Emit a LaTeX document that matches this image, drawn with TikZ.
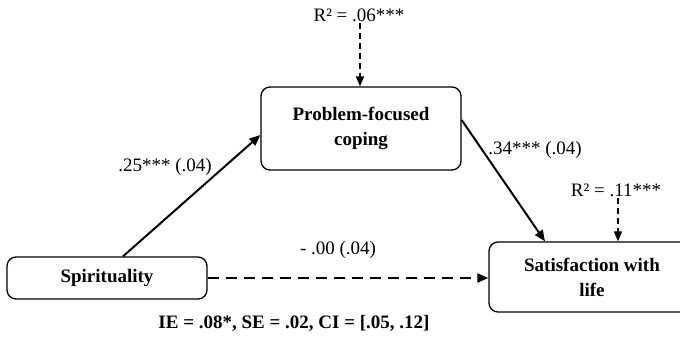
\documentclass[tikz,border=0pt]{standalone}
\usepackage{fontspec}
\setmainfont{Liberation Serif}
\usetikzlibrary{arrows.meta}
\begin{document}
\begin{tikzpicture}[x=1pt,y=-1pt,
  box/.style={draw, line width=1.3pt, rounded corners=9pt, align=center,
    font=\fontsize{19}{25}\selectfont\bfseries, inner sep=0pt},
  lbl/.style={font=\fontsize{19}{23}\selectfont, inner sep=1pt},
  solidarrow/.style={line width=2pt, -{Triangle[length=11pt,width=9pt]}},
  dasharrow/.style={line width=2.3pt, dash pattern=on 11pt off 7pt, -{Triangle[length=11pt,width=9pt]}},
  rarrow/.style={line width=1.5pt, dash pattern=on 6pt off 4pt, -{Triangle[length=10pt,width=8pt]}}
]
\useasboundingbox (0,0) rectangle (680,338);
\node[box, minimum width=200pt, minimum height=42pt] (spir) at (107,278) {Spirituality};
\node[box, minimum width=200pt, minimum height=83pt] (pfc) at (361,128.5) {Problem-focused\\coping};
\node[box, minimum width=206pt, minimum height=70pt] (sat) at (592,277) {Satisfaction with\\life};
\node[lbl] (r1) at (359,15) {R² = .06***};
\node[lbl] (r2) at (616,190) {R² = .11***};
\node[lbl] (l1) at (165,167) {.25*** (.04)};
\node[lbl] (l2) at (535,150) {.34*** (.04)};
\node[lbl] (l3) at (338,250) {- .00 (.04)};
\node[lbl, font=\fontsize{19}{23}\selectfont\bfseries] (ie) at (294,323) {IE = .08*, SE = .02, CI = [.05, .12]};
\coordinate (r1s) at ([xshift=1pt]r1.south);
\coordinate (r2s) at ([xshift=2pt]r2.south);
\draw[solidarrow] ([xshift=16pt]spir.north) -- ([yshift=-6.5pt]pfc.west);
\draw[solidarrow] ([yshift=8.5pt]pfc.east) -- ([xshift=-47pt]sat.north);
\draw[dasharrow] (spir.east) -- (spir.east -| sat.west);
\draw[rarrow] (r1s) -- (pfc.north -| r1s);
\draw[rarrow] (r2s) -- (sat.north -| r2s);
\end{tikzpicture}
\end{document}
